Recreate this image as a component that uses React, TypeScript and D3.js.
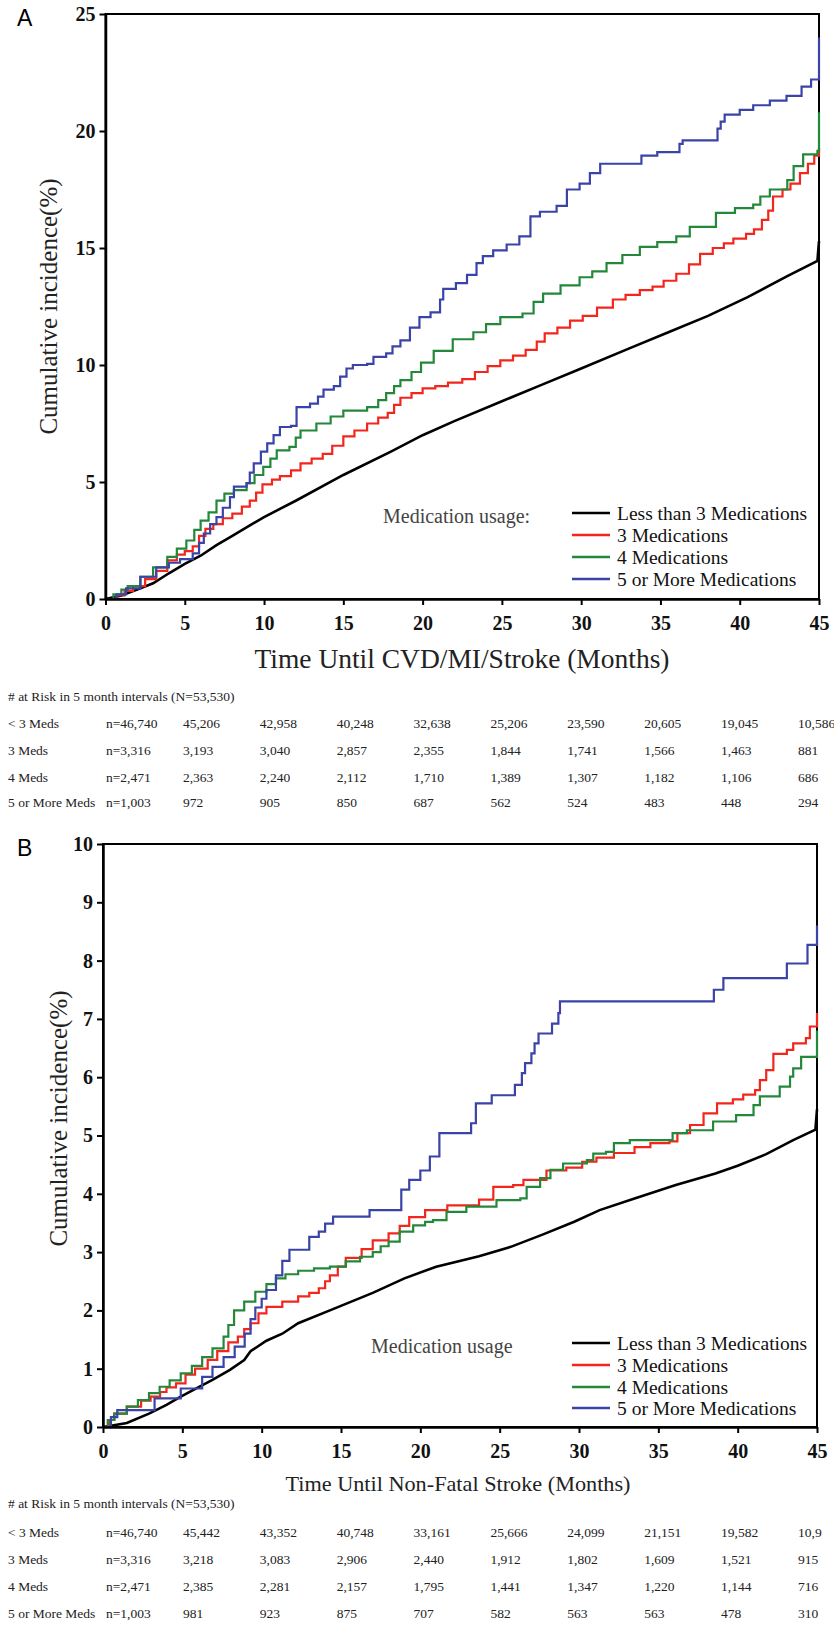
import React, { useEffect, useRef } from 'react';
import * as d3 from 'd3';

type Pt = [number, number];

// months on the x axis and in the at-risk table
const months = [0, 5, 10, 15, 20, 25, 30, 35, 40, 45];

const seriesNames = ['Less than 3 Medications', '3 Medications', '4 Medications', '5 or More Medications'];
const seriesColors = ['#000000', '#f2261c', '#23883a', '#3a43a6'];
const riskGroups = ['< 3 Meds', '3 Meds', '4 Meds', '5 or More Meds'];

// ---- Panel A: CVD/MI/Stroke, cumulative incidence (%) by month ----
const lessThan3A: Pt[] = [
  [0, 0], [1, 0.15], [2, 0.4], [3, 0.67], [4, 1.1], [5, 1.5], [6, 1.85], [7, 2.3], [8, 2.7], [9, 3.1],
  [10, 3.5], [12, 4.2], [15, 5.3], [18, 6.3], [20, 7.0], [22, 7.6], [25, 8.45], [27.5, 9.15], [30, 9.85],
  [33, 10.7], [35.5, 11.4], [38, 12.1], [40.5, 12.9], [43, 13.8], [44.9, 14.45], [45, 15.3],
];
const three3A: Pt[] = [
  [0, 0], [0.7, 0.15], [1.2, 0.35], [1.75, 0.55], [2.5, 0.85], [3.2, 1.2], [3.9, 1.65], [4.5, 1.9], [5.0, 2.05],
  [5.5, 2.25], [5.9, 2.7], [6.3, 3.0], [6.8, 3.2], [7.4, 3.45], [8.0, 3.65], [8.6, 3.95], [9.1, 4.2], [9.5, 4.55],
  [9.9, 4.9], [10.5, 5.1], [11.0, 5.25], [11.7, 5.5], [12.3, 5.8], [13.0, 6.0], [13.7, 6.2], [14.3, 6.55],
  [15.0, 6.95], [15.7, 7.2], [16.5, 7.5], [17.2, 7.75], [17.8, 7.95], [18.2, 8.3], [18.6, 8.6], [19.3, 8.8],
  [20.0, 9.0], [20.8, 9.1], [21.6, 9.25], [22.5, 9.4], [23.3, 9.7], [24.1, 9.95], [24.9, 10.2], [25.7, 10.4],
  [26.5, 10.65], [27.2, 11.0], [27.7, 11.35], [28.5, 11.6], [29.3, 11.9], [30.1, 12.1], [31, 12.45], [32, 12.8],
  [32.8, 13.0], [33.7, 13.2], [34.5, 13.35], [35.2, 13.6], [36.0, 13.9], [36.8, 14.3], [37.5, 14.75], [38.3, 15.0],
  [39.0, 15.2], [39.6, 15.4], [40.4, 15.6], [40.9, 15.8], [41.4, 16.2], [41.8, 16.6], [42.1, 17.2], [42.7, 17.5],
  [43.2, 17.75], [43.8, 18.2], [44.3, 18.6], [44.7, 18.95], [45, 19.3],
];
const four4A: Pt[] = [
  [0, 0], [0.5, 0.2], [1.0, 0.4], [1.4, 0.55], [2.2, 0.95], [3.0, 1.35], [3.9, 1.8], [4.5, 2.15], [5.1, 2.5],
  [5.6, 2.95], [6.0, 3.35], [6.5, 3.7], [7.0, 4.2], [7.5, 4.5], [8.1, 4.65], [8.9, 4.95], [9.4, 5.3], [9.95, 5.65],
  [10.4, 6.0], [10.8, 6.35], [11.6, 6.5], [12.0, 6.9], [12.3, 7.2], [13.3, 7.5], [14.2, 7.8], [15.0, 8.05],
  [16.5, 8.2], [17.2, 8.5], [17.7, 8.8], [18.2, 9.1], [18.6, 9.35], [19.3, 9.7], [19.9, 10.1], [20.7, 10.6],
  [21.9, 11.1], [23.2, 11.4], [24.0, 11.75], [24.9, 12.05], [26.3, 12.2], [27.0, 12.7], [27.6, 13.05],
  [28.7, 13.4], [29.9, 13.75], [30.7, 14.0], [31.6, 14.35], [32.6, 14.7], [33.7, 15.05], [34.8, 15.25],
  [36.0, 15.5], [36.85, 15.9], [38.5, 16.5], [39.7, 16.7], [40.85, 16.85], [41.3, 17.2], [41.9, 17.5],
  [43.0, 17.9], [43.4, 18.5], [44.0, 19.0], [44.9, 19.15], [45, 20.8],
];
const fivePlusA: Pt[] = [
  [0, 0], [0.7, 0.2], [1.3, 0.45], [2.2, 0.95], [3.2, 1.35], [4.0, 1.55], [4.7, 1.7], [5.5, 1.95], [5.9, 2.4],
  [6.2, 2.8], [6.6, 3.2], [7.0, 3.5], [7.4, 3.9], [7.85, 4.35], [8.1, 4.8], [8.9, 4.95], [9.1, 5.4], [9.35, 5.8],
  [9.8, 6.3], [10.2, 6.65], [10.6, 7.0], [11.0, 7.35], [11.7, 7.4], [12.05, 8.2], [12.9, 8.35], [13.4, 8.65],
  [13.75, 8.95], [14.4, 9.1], [14.8, 9.5], [15.2, 9.85], [15.6, 10.0], [16.5, 10.05], [16.9, 10.35], [17.7, 10.5],
  [18.1, 10.8], [18.6, 11.05], [19.2, 11.6], [19.8, 12.05], [20.5, 12.25], [21.1, 12.8], [21.3, 13.25],
  [22.1, 13.5], [22.8, 13.85], [23.4, 14.35], [23.8, 14.65], [24.45, 14.9], [25.3, 15.15], [26.1, 15.5],
  [26.8, 16.35], [27.4, 16.55], [28.45, 16.8], [29.1, 17.5], [29.9, 17.75], [30.55, 18.2], [31.2, 18.6],
  [33.8, 18.95], [34.8, 19.1], [36.2, 19.45], [36.4, 19.6], [38.6, 20.1], [38.8, 20.4], [39.05, 20.7],
  [40.0, 20.9], [40.85, 21.1], [41.9, 21.3], [42.95, 21.5], [43.9, 21.9], [44.5, 22.2], [45, 24.0],
];

// ---- Panel B: Non-fatal stroke ----
const lessThan3B: Pt[] = [
  [0, 0], [0.5, 0.02], [1.5, 0.07], [2.9, 0.23], [4, 0.38], [4.9, 0.52], [6, 0.68], [6.9, 0.81], [8, 0.98],
  [8.9, 1.15], [9.3, 1.3], [10.3, 1.48], [11.3, 1.6], [12.3, 1.78], [14.3, 2.0], [17, 2.3], [19, 2.55], [21, 2.75],
  [23.7, 2.93], [25.7, 3.09], [27.7, 3.3], [29.7, 3.52], [31.3, 3.72], [33.5, 3.92], [36.1, 4.15], [38.6, 4.35],
  [40, 4.48], [41.8, 4.68], [43.5, 4.92], [44.9, 5.1], [45, 5.45],
];
const three3B: Pt[] = [
  [0, 0], [0.4, 0.12], [0.7, 0.23], [1.5, 0.35], [2.4, 0.45], [3.0, 0.52], [3.6, 0.6], [4.0, 0.68], [4.6, 0.75],
  [5.2, 0.9], [5.8, 1.0], [6.6, 1.15], [7.2, 1.3], [7.9, 1.45], [8.5, 1.55], [8.9, 1.68], [9.3, 1.78], [9.8, 1.95],
  [10.3, 2.06], [11.3, 2.15], [12.3, 2.24], [13.0, 2.3], [13.6, 2.38], [14.0, 2.5], [14.3, 2.6], [14.8, 2.75],
  [15.3, 2.9], [16.3, 3.05], [17.0, 3.2], [18.0, 3.32], [18.7, 3.45], [19.3, 3.6], [20.3, 3.72], [21.7, 3.8],
  [23.7, 3.9], [24.6, 4.12], [25.85, 4.15], [26.5, 4.24], [27.95, 4.4], [29.2, 4.45], [30.2, 4.55], [31.1, 4.62],
  [32.2, 4.7], [33.5, 4.8], [34.5, 4.87], [35.7, 4.9], [36.2, 5.04], [37.0, 5.18], [37.85, 5.38], [38.7, 5.55],
  [39.7, 5.62], [40.35, 5.7], [41.1, 5.78], [41.4, 5.95], [41.8, 6.12], [42.25, 6.4], [43.1, 6.47], [43.5, 6.58],
  [44.3, 6.67], [44.55, 6.87], [45, 7.1],
];
const four4B: Pt[] = [
  [0, 0], [0.3, 0.12], [0.72, 0.23], [1.5, 0.35], [2.2, 0.46], [2.9, 0.58], [3.57, 0.69], [4.2, 0.8], [4.9, 0.92],
  [5.6, 1.05], [6.25, 1.2], [6.9, 1.35], [7.6, 1.55], [7.9, 1.75], [8.26, 2.0], [8.9, 2.15], [9.6, 2.32],
  [10.3, 2.45], [10.9, 2.55], [11.5, 2.62], [12.3, 2.68], [13.3, 2.72], [14.3, 2.75], [15.3, 2.84], [16.2, 2.92],
  [17.0, 3.0], [17.5, 3.1], [18.0, 3.18], [18.7, 3.35], [19.55, 3.46], [20.3, 3.52], [20.8, 3.55], [21.65, 3.69],
  [22.9, 3.78], [24.8, 3.89], [26.3, 3.92], [26.7, 4.12], [27.55, 4.27], [28.2, 4.41], [29.0, 4.52], [30.5, 4.58],
  [30.9, 4.69], [31.7, 4.72], [32.2, 4.87], [33.2, 4.92], [35.9, 5.04], [36.8, 5.09], [38.45, 5.24], [39.9, 5.35],
  [41.0, 5.52], [41.4, 5.67], [42.65, 5.84], [43.3, 6.01], [43.5, 6.15], [44.0, 6.35], [45, 6.8],
];
const fivePlusB: Pt[] = [
  [0, 0], [0.5, 0.17], [0.9, 0.29], [3.25, 0.49], [4.9, 0.66], [6.25, 0.86], [6.9, 1.03], [7.6, 1.2], [8.3, 1.38],
  [8.93, 1.6], [9.3, 1.85], [9.6, 2.05], [10.0, 2.2], [10.3, 2.35], [10.9, 2.6], [11.3, 2.85], [11.75, 3.04],
  [13.0, 3.26], [13.6, 3.35], [14.0, 3.49], [14.5, 3.61], [16.8, 3.72], [18.8, 4.07], [19.3, 4.24], [20.0, 4.4],
  [20.6, 4.64], [21.2, 5.04], [23.2, 5.21], [23.5, 5.55], [24.5, 5.69], [25.96, 5.87], [26.4, 6.07], [26.6, 6.24],
  [27.0, 6.41], [27.2, 6.58], [27.45, 6.75], [28.3, 6.92], [28.7, 7.1], [28.8, 7.3], [38.5, 7.5], [39.1, 7.7],
  [43.1, 7.95], [44.4, 8.27], [45, 8.6],
];

// ---- numbers at risk ----
const riskLt3A = ['n=46,740', '45,206', '42,958', '40,248', '32,638', '25,206', '23,590', '20,605', '19,045', '10,586'];
const risk3A = ['n=3,316', '3,193', '3,040', '2,857', '2,355', '1,844', '1,741', '1,566', '1,463', '881'];
const risk4A = ['n=2,471', '2,363', '2,240', '2,112', '1,710', '1,389', '1,307', '1,182', '1,106', '686'];
const risk5A = ['n=1,003', '972', '905', '850', '687', '562', '524', '483', '448', '294'];

const riskLt3B = ['n=46,740', '45,442', '43,352', '40,748', '33,161', '25,666', '24,099', '21,151', '19,582', '10,9'];
const risk3B = ['n=3,316', '3,218', '3,083', '2,906', '2,440', '1,912', '1,802', '1,609', '1,521', '915'];
const risk4B = ['n=2,471', '2,385', '2,281', '2,157', '1,795', '1,441', '1,347', '1,220', '1,144', '716'];
const risk5B = ['n=1,003', '981', '923', '875', '707', '582', '563', '563', '478', '310'];

const SERIF = '"Liberation Serif", "Times New Roman", serif';

function drawPanel(svg: any, p: any) {
  const x = d3.scaleLinear().domain([0, 45]).range([p.left, p.right]);
  const y = d3.scaleLinear().domain([0, p.yMax]).range([p.bottom, p.top]);
  const g = svg.append('g');

  // panel letter
  g.append('text')
    .attr('x', 17).attr('y', p.top + 4).attr('dy', '0.35em')
    .style('font-family', '"Liberation Sans", Arial, sans-serif')
    .style('font-size', '23px')
    .text(p.letter);

  // frame
  g.append('rect')
    .attr('x', p.left).attr('y', p.top)
    .attr('width', p.right - p.left).attr('height', p.bottom - p.top)
    .attr('fill', 'none').attr('stroke', '#000').attr('stroke-width', 2);

  // curves
  p.series.forEach((s: Pt[], i: number) => {
    const line = d3.line<Pt>()
      .x(d => x(d[0]))
      .y(d => y(d[1]))
      .curve(i === 0 ? d3.curveLinear : d3.curveStepAfter);
    g.append('path')
      .attr('d', line(s))
      .attr('fill', 'none')
      .attr('stroke', seriesColors[i])
      .attr('stroke-width', i === 0 ? 2.6 : 2.2);
  });

  // axes
  const xAxis = g.append('g')
    .attr('transform', `translate(0,${p.bottom})`)
    .call(d3.axisBottom(x).tickValues(months).tickSize(6).tickSizeOuter(0).tickPadding(11));
  const yAxis = g.append('g')
    .attr('transform', `translate(${p.left},0)`)
    .call(d3.axisLeft(y).ticks(p.yMax > 10 ? 5 : 10).tickSize(6).tickSizeOuter(0).tickPadding(4));
  [xAxis, yAxis].forEach(a => {
    a.select('.domain').attr('stroke', '#000').attr('stroke-width', 2.5);
    a.selectAll('.tick line').attr('stroke', '#000').attr('stroke-width', 2);
    a.selectAll('.tick text')
      .attr('fill', '#111')
      .style('font-family', SERIF)
      .style('font-weight', 'bold')
      .style('font-size', '20px');
  });

  // axis titles
  g.append('text')
    .attr('transform', `translate(${p.yTitleX},${(p.top + p.bottom) / 2 + p.yTitleShift}) rotate(-90)`)
    .attr('text-anchor', 'middle').attr('dy', '0.35em')
    .attr('fill', '#222')
    .style('font-family', SERIF).style('font-size', '25px')
    .text('Cumulative incidence(%)');
  g.append('text')
    .attr('x', p.xTitleX).attr('y', p.xTitleY)
    .attr('text-anchor', 'middle').attr('dy', '0.35em')
    .attr('fill', '#222')
    .attr('textLength', p.xTitleWidth).attr('lengthAdjust', 'spacingAndGlyphs')
    .style('font-family', SERIF).style('font-size', p.xTitleSize + 'px')
    .text(p.xTitle);

  // legend
  g.append('text')
    .attr('x', p.legendTitleX).attr('y', p.legendRows[0] + 3).attr('dy', '0.35em')
    .attr('fill', '#444')
    .style('font-family', SERIF).style('font-size', '20px')
    .text(p.legendTitle);
  seriesNames.forEach((name, i) => {
    const ly = p.legendRows[i];
    g.append('line')
      .attr('x1', 572).attr('x2', 610).attr('y1', ly).attr('y2', ly)
      .attr('stroke', seriesColors[i]).attr('stroke-width', 2.6);
    g.append('text')
      .attr('x', 617).attr('y', ly).attr('dy', '0.35em')
      .attr('fill', '#111')
      .style('font-family', SERIF).style('font-size', '19.5px')
      .text(name);
  });

  // numbers at risk table
  const col = d3.scaleLinear().domain([0, 45]).range([106, 798]);
  g.append('text')
    .attr('x', 8).attr('y', p.riskHeaderY).attr('dy', '0.35em')
    .attr('fill', '#222')
    .style('font-family', SERIF).style('font-size', '13.5px')
    .text('# at Risk in 5 month intervals (N=53,530)');
  p.risk.forEach((row: string[], r: number) => {
    const ry = p.riskRows[r];
    g.append('text')
      .attr('x', 8).attr('y', ry).attr('dy', '0.35em')
      .attr('fill', '#222')
      .style('font-family', SERIF).style('font-size', '13.5px')
      .text(riskGroups[r]);
    row.forEach((v, c) => {
      g.append('text')
        .attr('x', col(months[c])).attr('y', ry).attr('dy', '0.35em')
        .attr('fill', '#222')
        .style('font-family', SERIF).style('font-size', '13.5px')
        .text(v);
    });
  });
}

export default function App() {
  const ref = useRef<SVGSVGElement>(null);

  useEffect(() => {
    const svg = d3.select(ref.current);
    svg.selectAll('*').remove();

    drawPanel(svg, {
      letter: 'A', left: 105.5, right: 819, top: 14, bottom: 599, yMax: 25,
      series: [lessThan3A, three3A, four4A, fivePlusA],
      yTitleX: 48, yTitleShift: 0,
      xTitle: 'Time Until CVD/MI/Stroke (Months)', xTitleX: 462, xTitleY: 659, xTitleSize: 27, xTitleWidth: 415,
      legendTitle: 'Medication usage:', legendTitleX: 383, legendRows: [513, 535, 557, 579],
      riskHeaderY: 696, riskRows: [723, 750, 777, 802],
      risk: [riskLt3A, risk3A, risk4A, risk5A],
    });
    drawPanel(svg, {
      letter: 'B', left: 103, right: 817, top: 844, bottom: 1427, yMax: 10,
      series: [lessThan3B, three3B, four4B, fivePlusB],
      yTitleX: 58, yTitleShift: -17,
      xTitle: 'Time Until Non-Fatal Stroke (Months)', xTitleX: 458, xTitleY: 1483, xTitleSize: 22, xTitleWidth: 345,
      legendTitle: 'Medication usage', legendTitleX: 371, legendRows: [1343, 1365, 1387, 1408],
      riskHeaderY: 1503, riskRows: [1532, 1559, 1586, 1613],
      risk: [riskLt3B, risk3B, risk4B, risk5B],
    });
  }, []);

  return (
    <svg
      ref={ref}
      width={834}
      height={1643}
      style={{ position: 'absolute', left: 0, top: 0, background: '#fff' }}
    />
  );
}
